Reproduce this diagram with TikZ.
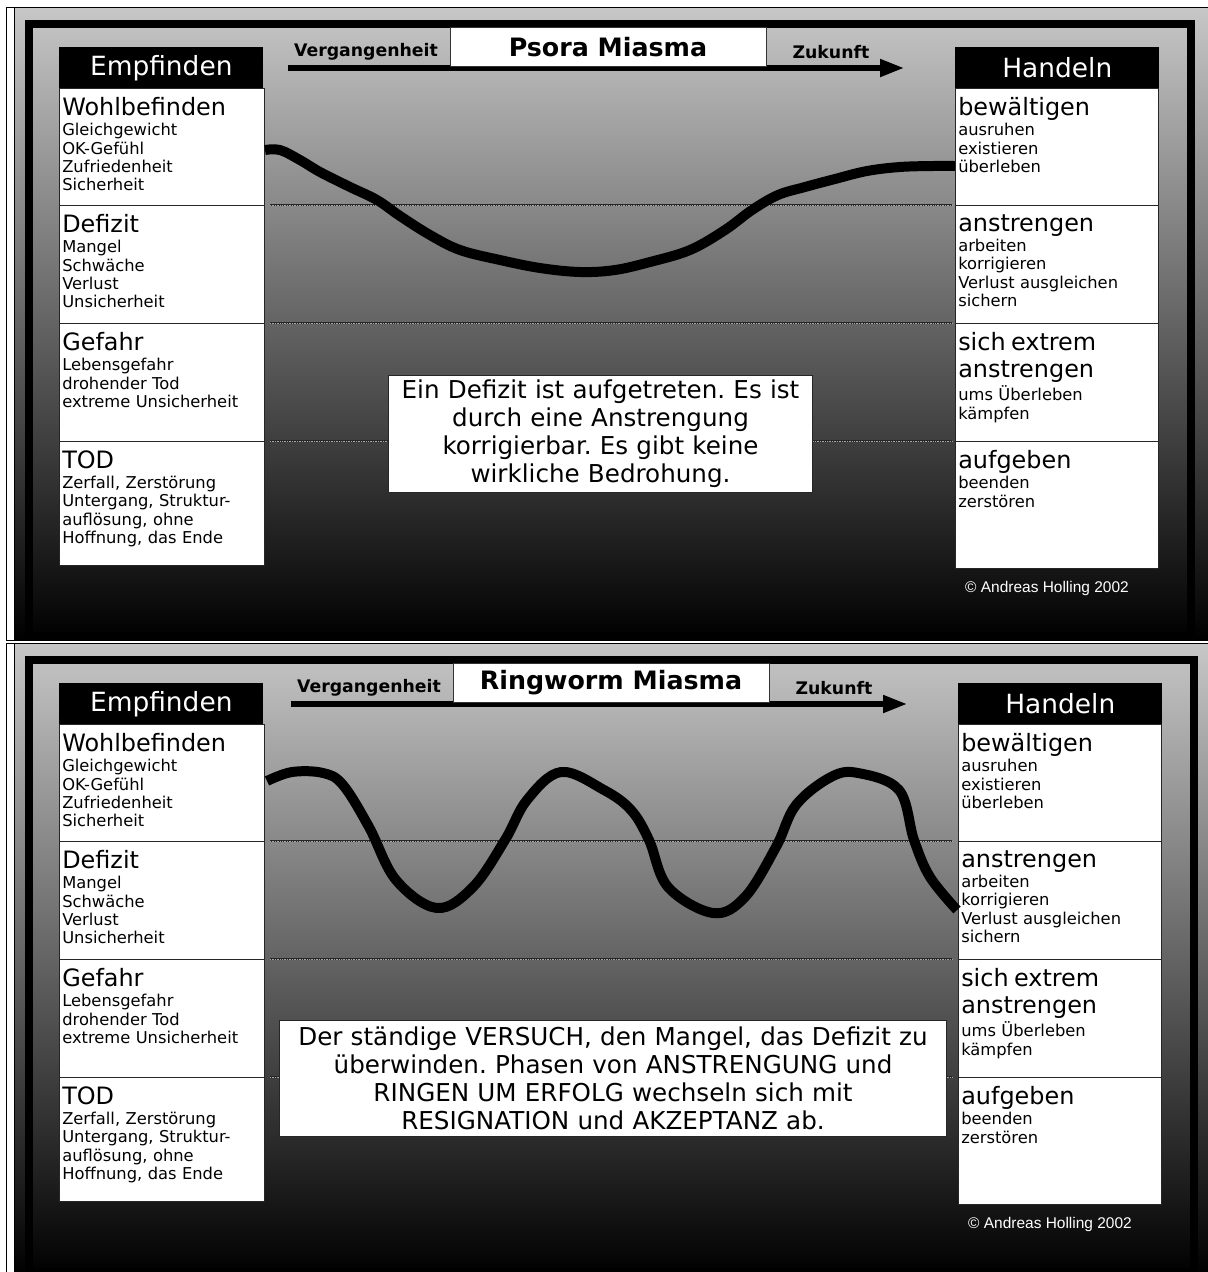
\documentclass[tikz,border=0pt]{standalone}
\usepackage{fontspec}
\setmainfont{DejaVu Sans}
\newfontfamily\arialfont{Liberation Sans}
\usetikzlibrary{arrows.meta}
\frenchspacing
\newcommand\rowheadfont{\fontsize{17pt}{19.2pt}\selectfont}
\newcommand\rowsubfont{\fontsize{11.6pt}{13pt}\selectfont}
\newcommand\rowhead[1]{{\rowheadfont #1\par}\vskip1.6pt}
\tikzset{
    panel fill/.style={% background of one chart
        top color=black!22, bottom color=black, draw=black, line width=0.5pt},
    frame/.style={draw=black, line width=5.7pt},
    level/.style={draw=black!85, line width=1.2pt,
        postaction={draw=black!35, line width=0.5pt, dash pattern=on 0.6pt off 0.6pt}},
    time arrow/.style={line width=3.6pt, -{Triangle[length=17pt, width=12pt]}},
    time label/.style={inner sep=0pt, font=\bfseries\fontsize{12.3pt}{14pt}\selectfont},
    title box/.style={fill=white, draw=black!80, line width=0.6pt, minimum width=7.9cm,
        minimum height=0.975cm, inner sep=0pt, font=\bfseries\fontsize{18pt}{21pt}\selectfont},
    col head/.style={% black header of a column
        fill=black, text=white, anchor=north west, inner sep=0pt, minimum width=5.1cm,
        minimum height=1.025cm, font=\fontsize{18.8pt}{22pt}\selectfont},
    row box/.style={fill=white, draw=black!85, line width=0.6pt},
    row text/.style={anchor=north west, inner sep=0pt, text width=4.9cm, align=left, font=\rowsubfont},
    mood/.style={line width=7.1pt, line join=round},
    note box/.style={fill=white, draw=black!85, line width=0.7pt, align=center, inner sep=0pt,
        font=\fontsize{17.5pt}{20pt}\selectfont},
    copyright/.style={text=white, inner sep=0pt, font=\arialfont\fontsize{11pt}{13pt}\selectfont}}

\begin{document}
\begin{tikzpicture}[x=0.025cm, y=-0.025cm]
\useasboundingbox (0,0) rectangle (1208,1272);
\foreach \off/\dx/\p/\miasma in {0/0/a/Psora Miasma, 636/3/b/Ringworm Miasma}{
\begin{scope}[shift={(0,\off)}]
% panel
\draw[panel fill] (14,7) rectangle (1208,640);
\draw[thin] (14,640) -- (6,640) -- (6,7) -- (14,7);
\draw[frame] (29,24) rectangle (1191+\dx,636);
\foreach \lev in {205,323,441}
    \draw[level] (270,\lev) -- (952,\lev);
% time axis
\coordinate (\p-start) at (288+\dx,68);
\coordinate (\p-end) at (904+\dx,68);
\draw[time arrow] (\p-start) -- (\p-end);
\node[time label] (\p-past) at (366+\dx,52) {Vergangenheit};
\node[time label] (\p-future) at (831+\dx,52) {Zukunft};
\node[title box] (\p-title) at (608+\dx,47) {\miasma};
% left column
\node[col head] (\p-feel) at (59,47) {Empfinden};
\draw[row box] (59,88) rectangle (264,205) (59,205) rectangle (264,323)
    (59,323) rectangle (264,441) (59,441) rectangle (264,565);
\node[row text] (\p-well) at (62,97) {\rowhead{Wohlbefinden}Gleichgewicht\\OK-Gefühl\\Zufriedenheit\\Sicherheit};
\node[row text] (\p-lack) at (62,214) {\rowhead{Defizit}Mangel\\Schwäche\\Verlust\\Unsicherheit};
\node[row text] (\p-danger) at (62,332) {\rowhead{Gefahr}Lebensgefahr\\drohender Tod\\extreme Unsicherheit};
\node[row text] (\p-death) at (62,450) {\rowhead{TOD}Zerfall, Zerstörung\\Untergang, Struktur-\\auflösung, ohne\\Hoffnung, das Ende};
% right column
\node[col head] (\p-act) at (955+\dx,47) {Handeln};
\draw[row box] (955+\dx,88) rectangle (1158+\dx,205) (955+\dx,205) rectangle (1158+\dx,323)
    (955+\dx,323) rectangle (1158+\dx,441) (955+\dx,441) rectangle (1158+\dx,568);
\node[row text] (\p-cope) at (958+\dx,97) {\rowhead{bewältigen}ausruhen\\existieren\\überleben};
\node[row text] (\p-strive) at (958+\dx,214) {\rowhead{anstrengen}arbeiten\\korrigieren\\Verlust ausgleichen\\sichern};
\node[row text] (\p-fight) at (958+\dx,332) {\rowhead{sich extrem\\anstrengen}ums Überleben\\kämpfen};
\node[row text] (\p-quit) at (958+\dx,450) {\rowhead{aufgeben}beenden\\zerstören};
\node[copyright] (\p-copy) at (1047+\dx,588) {\textcopyright\ Andreas Holling 2002};
\end{scope}}
% curves
\draw[mood] plot[smooth, tension=0.6] coordinates {(265,150) (280,150) (300,160) (320,172) (350,187)
    (377,200) (400,216) (430,235) (460,250) (500,260) (540,268) (580,272) (615,270) (650,262)
    (690,250) (725,230) (752,210) (778,195) (805,187) (835,179) (867,171) (900,167) (933,166) (955,166)};
\draw[mood] plot[smooth, tension=0.6] coordinates {(267,781) (292,772) (323,773) (343,785)
    (369,827) (396,880) (437,908) (473,887) (505,840) (527,800) (561,772) (604,790) (631,810)
    (649,840) (668,887) (713,913) (745,897) (776,847) (796,805) (831,777) (858,773) (899,790)
    (914,840) (930,877) (957,910)};
% notes
\node[note box, minimum width=10.575cm, minimum height=2.925cm, text width=10.3cm] (a-note) at (600.5,433.5)
    {Ein Defizit ist aufgetreten. Es ist\\durch eine Anstrengung\\korrigierbar. Es gibt keine\\wirkliche Bedrohung.};
\node[note box, minimum width=16.65cm, minimum height=2.9cm, text width=16.3cm] (b-note) at (613,1078)
    {Der ständige VERSUCH, den Mangel, das Defizit zu\\überwinden. Phasen von ANSTRENGUNG und\\RINGEN UM ERFOLG wechseln sich mit\\RESIGNATION und AKZEPTANZ ab.};
\end{tikzpicture}
\end{document}
